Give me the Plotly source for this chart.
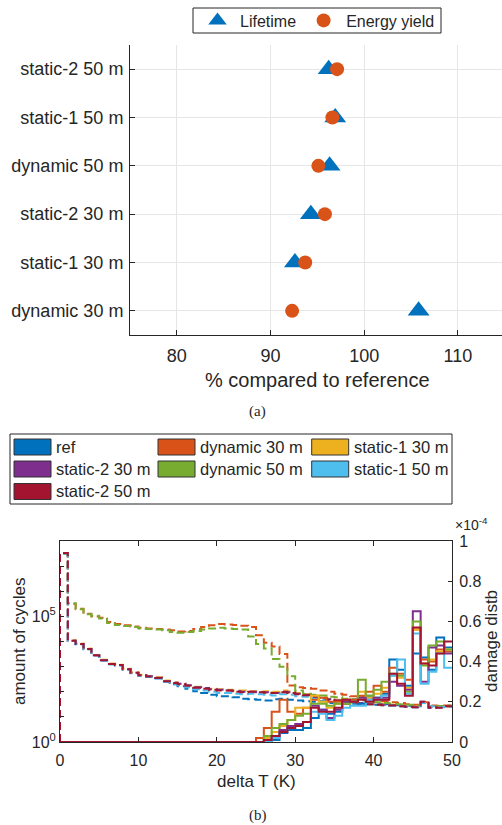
import numpy as np
import plotly.graph_objects as go

# ---------------- (a) lifetime and energy yield vs. reference ----------------
configs = ["dynamic 30 m", "static-1 30 m", "static-2 30 m",
           "dynamic 50 m", "static-1 50 m", "static-2 50 m"]
lifetime_pct = [105.8, 92.6, 94.3, 96.3, 96.9, 96.2]
energy_pct = [92.3, 93.7, 95.8, 95.1, 96.6, 97.1]

# ---------------- (b) histograms over the temperature swing ----------------
series_names = ["ref", "dynamic 30 m", "static-1 30 m", "static-2 30 m",
                "dynamic 50 m", "static-1 50 m", "static-2 50 m"]
series_colors = ["#0072BD", "#D95319", "#EDB120", "#7E2F8E",
                 "#77AC30", "#4DBEEE", "#A2142F"]
bin_edges = list(range(0, 51))          # delta T bins of 1 K

# cycle counts per bin, given as log10(count)
cycles_log10 = {
    "ref": [7.50, 4.02, 3.90, 3.70, 3.45, 3.25, 3.10, 3.05, 2.90, 2.75,
            2.65, 2.60, 2.55, 2.40, 2.30, 2.22, 2.12, 2.02, 1.95, 1.88,
            1.82, 1.82, 1.78, 1.72, 1.70, 1.68, 1.65, 1.70, 1.72, 1.68,
            1.65, 1.62, 1.60, 1.62, 1.55, 1.56, 1.52, 1.52, 1.50, 1.52,
            1.48, 1.50, 1.46, 1.46, 1.44, 1.42, 1.55, 1.40, 1.42, 1.44],
    "dynamic 30 m": [7.50, 5.50, 5.30, 5.10, 5.00, 4.95, 4.78, 4.70, 4.65, 4.60,
                     4.55, 4.52, 4.50, 4.48, 4.45, 4.40, 4.42, 4.50, 4.58, 4.65,
                     4.70, 4.68, 4.66, 4.63, 4.58, 4.25, 3.95, 3.80, 3.50, 2.25,
                     2.18, 2.15, 2.12, 2.05, 2.00, 1.92, 1.88, 1.82, 1.78, 1.72,
                     1.65, 1.62, 1.58, 1.55, 1.50, 1.48, 1.58, 1.45, 1.44, 1.45],
    "static-1 30 m": [7.50, 4.05, 3.92, 3.72, 3.46, 3.27, 3.12, 3.07, 2.92, 2.78,
                      2.68, 2.63, 2.58, 2.45, 2.38, 2.32, 2.25, 2.20, 2.15, 2.12,
                      2.10, 2.08, 2.05, 2.05, 2.02, 2.00, 2.02, 2.00, 2.05, 2.02,
                      1.95, 1.90, 1.85, 1.78, 1.72, 1.68, 1.62, 1.58, 1.55, 1.52,
                      1.50, 1.52, 1.48, 1.45, 1.44, 1.40, 1.58, 1.38, 1.40, 1.42],
    "static-2 30 m": [7.50, 4.03, 3.90, 3.70, 3.45, 3.25, 3.10, 3.05, 2.90, 2.76,
                      2.66, 2.62, 2.56, 2.42, 2.36, 2.32, 2.26, 2.18, 2.15, 2.10,
                      2.08, 2.05, 2.02, 2.00, 2.00, 1.98, 1.98, 1.95, 2.00, 1.98,
                      1.92, 1.88, 1.82, 1.75, 1.70, 1.65, 1.60, 1.58, 1.55, 1.50,
                      1.50, 1.48, 1.46, 1.42, 1.40, 1.38, 1.60, 1.35, 1.38, 1.42],
    "dynamic 50 m": [7.50, 5.52, 5.28, 5.08, 5.02, 4.92, 4.74, 4.66, 4.62, 4.58,
                     4.52, 4.50, 4.48, 4.45, 4.38, 4.35, 4.38, 4.42, 4.48, 4.52,
                     4.55, 4.52, 4.50, 4.48, 4.20, 3.90, 3.72, 3.30, 3.00, 2.62,
                     2.05, 1.92, 1.88, 1.85, 1.80, 1.78, 1.72, 1.70, 1.65, 1.62,
                     1.58, 1.55, 1.52, 1.50, 1.48, 1.45, 1.55, 1.42, 1.42, 1.44],
    "static-1 50 m": [7.50, 4.02, 3.88, 3.68, 3.44, 3.24, 3.08, 3.04, 2.88, 2.74,
                      2.64, 2.60, 2.52, 2.40, 2.32, 2.26, 2.18, 2.10, 2.05, 2.00,
                      1.95, 1.95, 1.92, 1.90, 1.92, 1.90, 1.88, 1.85, 1.90, 1.88,
                      1.82, 1.80, 1.75, 1.70, 1.66, 1.62, 1.58, 1.55, 1.52, 1.50,
                      1.48, 1.46, 1.44, 1.42, 1.40, 1.38, 1.55, 1.42, 1.38, 1.40],
    "static-2 50 m": [7.52, 4.03, 3.90, 3.70, 3.45, 3.25, 3.10, 3.06, 2.90, 2.76,
                      2.66, 2.61, 2.55, 2.42, 2.35, 2.30, 2.24, 2.16, 2.12, 2.08,
                      2.05, 2.05, 2.00, 1.98, 2.00, 1.98, 1.96, 1.95, 1.98, 1.95,
                      1.90, 1.86, 1.80, 1.74, 1.68, 1.64, 1.60, 1.56, 1.52, 1.50,
                      1.48, 1.46, 1.45, 1.42, 1.40, 1.38, 1.60, 1.38, 1.36, 1.42],
}

# damage per bin in units of 1e-4 (bins 0..24 carry no damage)
no_damage = [0.0] * 25
damage_e4 = {
    "ref": no_damage + [0.00, 0.00, 0.01, 0.045, 0.06, 0.06, 0.07, 0.12, 0.16, 0.14,
                        0.15, 0.19, 0.21, 0.19, 0.23, 0.22, 0.24, 0.41, 0.36, 0.28,
                        0.44, 0.42, 0.36, 0.52, 0.47],
    "dynamic 30 m": no_damage + [0.02, 0.07, 0.15, 0.21, 0.15, 0.14, 0.17, 0.21, 0.22, 0.20,
                                 0.20, 0.19, 0.21, 0.23, 0.25, 0.28, 0.25, 0.37, 0.34, 0.31,
                                 0.56, 0.41, 0.40, 0.46, 0.45],
    "static-1 30 m": no_damage + [0.00, 0.02, 0.05, 0.08, 0.11, 0.17, 0.17, 0.23, 0.20, 0.17,
                                  0.19, 0.21, 0.20, 0.25, 0.22, 0.24, 0.27, 0.33, 0.32, 0.27,
                                  0.56, 0.39, 0.41, 0.45, 0.46],
    "static-2 30 m": no_damage + [0.00, 0.01, 0.03, 0.06, 0.08, 0.09, 0.10, 0.18, 0.16, 0.12,
                                  0.16, 0.20, 0.20, 0.22, 0.21, 0.22, 0.22, 0.30, 0.28, 0.26,
                                  0.65, 0.30, 0.47, 0.48, 0.44],
    "dynamic 50 m": no_damage + [0.00, 0.03, 0.07, 0.09, 0.11, 0.13, 0.14, 0.19, 0.19, 0.18,
                                 0.19, 0.19, 0.20, 0.31, 0.23, 0.26, 0.30, 0.34, 0.33, 0.25,
                                 0.60, 0.38, 0.48, 0.50, 0.46],
    "static-1 50 m": no_damage + [0.00, 0.005, 0.02, 0.05, 0.07, 0.08, 0.10, 0.15, 0.14, 0.11,
                                  0.13, 0.17, 0.18, 0.18, 0.21, 0.21, 0.23, 0.33, 0.41, 0.24,
                                  0.54, 0.29, 0.35, 0.44, 0.37],
    "static-2 50 m": no_damage + [0.00, 0.01, 0.03, 0.05, 0.07, 0.08, 0.10, 0.17, 0.15, 0.15,
                                  0.17, 0.21, 0.20, 0.21, 0.20, 0.21, 0.21, 0.34, 0.29, 0.23,
                                  0.57, 0.39, 0.38, 0.44, 0.50],
}

# ---------------------------------------------------------------------------
W, H = 502, 825
FONT = "Liberation Sans, Arial, sans-serif"
INK = "#262626"


def px(x):
    return x / W


def py(y):
    return 1 - y / H


def stairs(values, base):
    """Histogram outline: rise from the baseline at the first edge, then steps."""
    xs = [bin_edges[0]] + bin_edges[:-1] + [bin_edges[-1]]
    ys = [base] + list(values) + [values[-1]]
    return xs, ys


fig = go.Figure()

# (a) markers
fig.add_trace(go.Scatter(
    x=lifetime_pct, y=configs, mode="markers", name="Lifetime",
    marker=dict(symbol="triangle-up", size=19, color="#0072BD",
                line=dict(width=0)),
    xaxis="x", yaxis="y", legend="legend"))
fig.add_trace(go.Scatter(
    x=energy_pct, y=configs, mode="markers", name="Energy yield",
    marker=dict(symbol="circle", size=14, color="#D95319",
                line=dict(width=0)),
    xaxis="x", yaxis="y", legend="legend"))

# (b) cycle-count histograms (dashed, left log axis)
for name, color in zip(series_names, series_colors):
    counts = 10 ** np.array(cycles_log10[name])
    xs, ys = stairs(counts, 1.0)
    fig.add_trace(go.Scatter(
        x=xs, y=ys, mode="lines", line_shape="hv", name=name,
        line=dict(color=color, width=2, dash="8px,4px"),
        xaxis="x2", yaxis="y2", showlegend=False))

# (b) damage histograms (solid, right axis)
for name, color in zip(series_names, series_colors):
    xs, ys = stairs(damage_e4[name], 0.0)
    fig.add_trace(go.Scatter(
        x=xs, y=ys, mode="lines", line_shape="hv", name=name,
        line=dict(color=color, width=2),
        xaxis="x2", yaxis="y3", showlegend=False))

tickfont_a = dict(family=FONT, size=18, color=INK)
tickfont_b = dict(family=FONT, size=16, color=INK)
common = dict(automargin=False, showline=True, linecolor=INK, linewidth=1,
              tickcolor=INK, zeroline=False)

fig.update_layout(
    template="none",
    width=W, height=H,
    margin=dict(l=0, r=0, t=0, b=0, pad=0),
    paper_bgcolor="white", plot_bgcolor="white",
    font=dict(family=FONT, color=INK),
    xaxis=dict(domain=[px(130), 1.0], range=[75, 114.7], anchor="y",
               tickvals=[80, 90, 100, 110], ticks="inside", ticklen=5,
               showgrid=True, gridcolor="#E6E6E6", gridwidth=1,
               tickfont=tickfont_a, ticklabelstandoff=4, **common),
    yaxis=dict(domain=[py(335), py(45)], anchor="x", type="category",
               categoryorder="array", categoryarray=configs,
               range=[-0.5, 5.5], ticks="inside", ticklen=5,
               showgrid=True, gridcolor="#E6E6E6", gridwidth=1,
               tickfont=tickfont_a, ticklabelstandoff=2, **common),
    xaxis2=dict(domain=[px(60), px(452)], range=[0, 50], anchor="y2",
                tickvals=[0, 10, 20, 30, 40, 50], ticks="inside", ticklen=5,
                mirror="ticks", showgrid=False,
                tickfont=tickfont_b, ticklabelstandoff=4, **common),
    yaxis2=dict(domain=[py(742), py(541)], anchor="x2", type="log",
                range=[0, 8], tickvals=[10 ** k for k in range(9)],
                ticktext=["10<sup>0</sup>", "", "", "", "",
                          "10<sup>5</sup>", "", "", ""],
                ticks="inside", ticklen=4, showgrid=False,
                tickfont=tickfont_b, ticklabelstandoff=0, **common),
    yaxis3=dict(overlaying="y2", side="right", anchor="x2", range=[0, 1],
                tickvals=[0, 0.2, 0.4, 0.6, 0.8, 1],
                ticktext=["0", "0.2", "0.4", "0.6", "0.8", "1"],
                ticks="inside", ticklen=4, showgrid=False,
                tickfont=tickfont_b, ticklabelstandoff=3, **common),
    legend=dict(orientation="h", x=px(195), y=py(20.5), xanchor="left",
                yanchor="middle", borderwidth=0, itemwidth=35,
                bgcolor="rgba(0,0,0,0)",
                font=dict(family=FONT, size=16, color=INK)),
    showlegend=True,
)

annotations = [
    dict(text="% compared to reference", x=px(317.5), y=py(380),
         font=dict(family=FONT, size=20, color=INK)),
    dict(text="(a)", x=px(257), y=py(411),
         font=dict(family="Liberation Serif, serif", size=15, color=INK)),
    dict(text="amount of cycles", x=px(19), y=py(641), textangle=-90,
         font=dict(family=FONT, size=17, color=INK)),
    dict(text="damage distb", x=px(491), y=py(641), textangle=-90,
         font=dict(family=FONT, size=17, color=INK)),
    dict(text="delta T (K)", x=px(256), y=py(781),
         font=dict(family=FONT, size=17, color=INK)),
    dict(text="×10<sup>-4</sup>", x=px(453), y=py(535), xanchor="left",
         yanchor="bottom", font=dict(family=FONT, size=14, color=INK)),
    dict(text="(b)", x=px(258), y=py(815),
         font=dict(family="Liberation Serif, serif", size=15, color=INK)),
]
for a in annotations:
    a.setdefault("xanchor", "center")
    a.setdefault("yanchor", "middle")
    a.update(xref="paper", yref="paper", showarrow=False)

# frame around the (a) legend
shapes = [dict(type="rect", xref="paper", yref="paper",
               x0=px(193), x1=px(441), y0=py(33), y1=py(8),
               line=dict(color=INK, width=1), fillcolor="white", layer="below")]

# legend for (b): colour patches with labels, three per row
shapes.append(dict(type="rect", xref="paper", yref="paper",
                   x0=px(10), x1=px(452), y0=py(504), y1=py(434),
                   line=dict(color=INK, width=1), fillcolor="white",
                   layer="below"))
col_left = [14, 158, 311.7]
row_mid = [447, 469, 491.5]
for i, (name, color) in enumerate(zip(series_names, series_colors)):
    r, c = divmod(i, 3)
    x0, ym = col_left[c], row_mid[r]
    shapes.append(dict(type="rect", xref="paper", yref="paper",
                       x0=px(x0), x1=px(x0 + 37), y0=py(ym + 8), y1=py(ym - 8),
                       line=dict(color="#333333", width=1), fillcolor=color))
    annotations.append(dict(text=name, x=px(x0 + 40), y=py(ym), xref="paper",
                            yref="paper", xanchor="left", yanchor="middle",
                            showarrow=False,
                            font=dict(family=FONT, size=16.5, color=INK)))

fig.update_layout(annotations=annotations, shapes=shapes)

fig.write_html("out.html")
